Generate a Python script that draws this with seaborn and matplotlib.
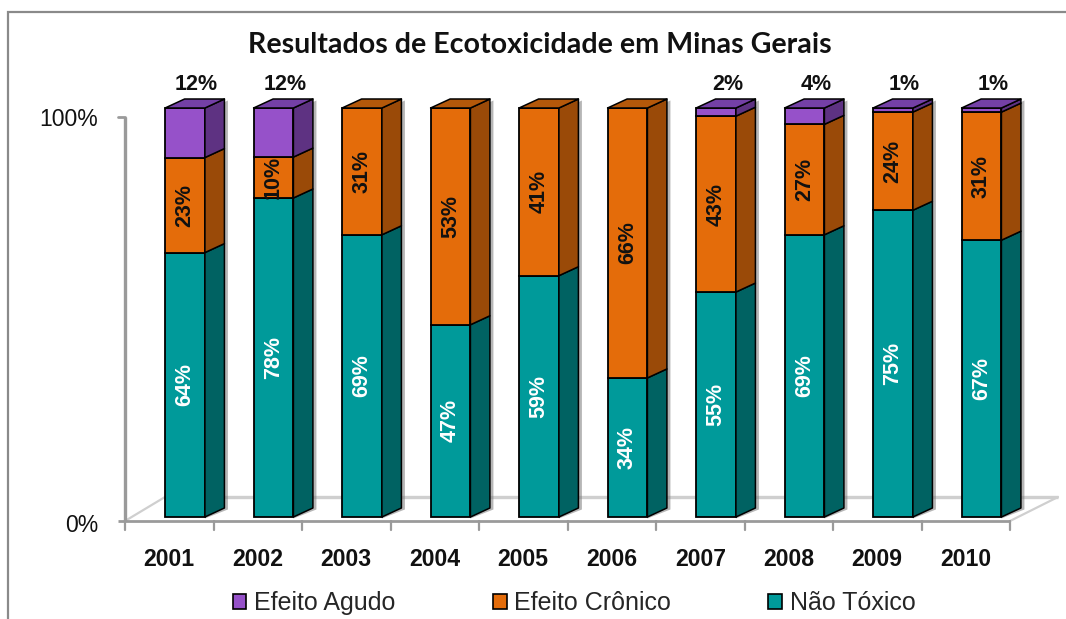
import numpy as np
import pandas as pd
import matplotlib
matplotlib.use("Agg")
import matplotlib.pyplot as plt
import seaborn as sns
from matplotlib.patches import Polygon, Rectangle, Patch

# ---------------- data ----------------
years = ["2001", "2002", "2003", "2004", "2005", "2006", "2007", "2008", "2009", "2010"]
agudo = [12, 12, 0, 0, 0, 0, 2, 4, 1, 1]
cronico = [23, 10, 31, 53, 41, 66, 43, 27, 24, 31]
nao_toxico = [64, 78, 69, 47, 59, 34, 55, 69, 75, 67]
series = ["Efeito Agudo", "Efeito Crônico", "Não Tóxico"]
tick_labels = ["0%", "100%"]
title = "Resultados de Ecotoxicidade em Minas Gerais"

# ---------------- style ----------------
front = {"Efeito Agudo": "#9651C9", "Efeito Crônico": "#E46C0A", "Não Tóxico": "#009A9A"}
side = {"Efeito Agudo": "#5E3282", "Efeito Crônico": "#9A4A08", "Não Tóxico": "#006262"}
top = {"Efeito Agudo": "#7440A6", "Efeito Crônico": "#B4580A", "Não Tóxico": "#007A7A"}

sns.set_theme(style="white")
plt.rcParams["font.family"] = ["Liberation Sans", "DejaVu Sans"]

W, H = 1066, 619
fig = plt.figure(figsize=(W / 100, H / 100), dpi=100)

# pixel mapping of the data space
X0, XS = 185.0, 88.5   # px of category 0 centre, px per category
Y0, YS = 517.0, 409.0  # px of 0 fraction, px per 1.0
xl = (-1.3, 10.3)
yl = (-0.22, 1.2)
ax = fig.add_axes([(X0 + XS * xl[0]) / W, (H - (Y0 - YS * yl[0])) / H,
                   XS * (xl[1] - xl[0]) / W, YS * (yl[1] - yl[0]) / H])

# ---------------- bars (seaborn) ----------------
n = len(years)
rows = []
for i in range(n):
    for s, vals in zip(series, [agudo, cronico, nao_toxico]):
        rows.append({"pos": i, "serie": s, "valor": vals[i]})
df = pd.DataFrame(rows)

bw = 0.45
sns.histplot(data=df, x="pos", hue="serie", weights="valor", multiple="fill",
             discrete=True, shrink=bw, hue_order=series, palette=front,
             alpha=1, edgecolor="black", linewidth=1.3, legend=False, ax=ax,
             zorder=3)

ax.set_xlim(*xl)
ax.set_ylim(*yl)
ax.axis("off")

# depth offsets (3D look)
dx = 19.5 / XS
dy = 9.0 / YS
sx = 3.5 / XS   # shadow offset
sy = 1.5 / YS

# floor / axes decoration (front plane shifted from the bars' plane)
fx = (125 - X0) / XS          # left wall x
fy0 = (Y0 - 521) / YS         # front floor y
fy1 = (Y0 - 117) / YS         # 100% on front plane
by = (Y0 - 497) / YS          # back floor y
bx0 = (165 - X0) / XS
bx1 = (1058 - X0) / XS
fxe = fx + n
grey = "#9A9A9A"
light = "#CFCFCF"
ax.plot([bx0, bx1], [by, by], color=light, lw=2.4, zorder=0.5, solid_capstyle="butt")
ax.plot([fx, bx0], [fy0, by], color=light, lw=1.6, zorder=0.5)
ax.plot([fxe, bx1], [fy0, by], color=light, lw=1.6, zorder=0.5)
ax.plot([fx - 7 / XS, fxe], [fy0, fy0], color=grey, lw=2.0, zorder=1, solid_capstyle="butt")
ax.plot([fx, fx], [fy0, fy1], color=grey, lw=2.4, zorder=1, solid_capstyle="butt")
ax.plot([fx - 7 / XS, fx], [fy1, fy1], color=grey, lw=2.0, zorder=1)
for k in range(n + 1):
    ax.plot([fx + k, fx + k], [fy0, fy0 - 9 / YS], color=grey, lw=1.6, zorder=1)

# y tick labels
ax.text((98 - X0) / XS, (Y0 - 525) / YS, tick_labels[0], ha="right", va="center",
        fontsize=16.6, color="#111111")
ax.text((98 - X0) / XS, (Y0 - 119) / YS, tick_labels[1], ha="right", va="center",
        fontsize=16.6, color="#111111")

# category labels
for i, yr in enumerate(years):
    ax.text(fx + 0.5 + i, (Y0 - 559) / YS, yr, ha="center", va="center",
            fontsize=16.6, fontweight="bold", color="#111111")

# 3D side and top faces + value labels
for i in range(n):
    vals = {"Não Tóxico": nao_toxico[i], "Efeito Crônico": cronico[i], "Efeito Agudo": agudo[i]}
    tot = sum(vals.values())
    xr = i + bw / 2
    # soft shadow behind the side face
    ax.add_patch(Polygon([(xr, -sy), (xr + dx + sx, dy - sy), (xr + dx + sx, 1 + dy - sy),
                          (xr + sx, 1 - sy)], closed=True, facecolor="#7A7A7A",
                         edgecolor="none", alpha=0.55, zorder=2))
    b = 0.0
    topser = None
    for s in ["Não Tóxico", "Efeito Crônico", "Efeito Agudo"]:
        h = vals[s] / tot
        if h <= 0:
            continue
        ax.add_patch(Polygon([(xr, b), (xr + dx, b + dy), (xr + dx, b + h + dy), (xr, b + h)],
                             closed=True, facecolor=side[s], edgecolor="black", lw=1.1,
                             zorder=3, joinstyle="round"))
        if s == "Não Tóxico":
            ax.text(i, b + h / 2, f"{vals[s]}%", rotation=90, ha="center", va="center",
                    fontsize=15.5, fontweight="bold", color="white", zorder=5)
        elif s == "Efeito Crônico":
            ax.text(i, b + h / 2, f"{vals[s]}%", rotation=90, ha="center", va="center",
                    fontsize=15.5, fontweight="bold", color="#111111", zorder=5)
        b += h
        topser = s
    xl_, xr_ = i - bw / 2, i + bw / 2
    ax.add_patch(Polygon([(xl_, b), (xl_ + dx, b + dy), (xr_ + dx, b + dy), (xr_, b)],
                         closed=True, facecolor=top[topser], edgecolor="black", lw=1.1,
                         zorder=3, joinstyle="round"))
    if agudo[i] > 0:
        ax.text(i + 0.13, b + (Y0 - 84 - YS) / YS, f"{agudo[i]}%", ha="center", va="center",
                fontsize=15.5, fontweight="bold", color="#111111", zorder=5)

# title
fig.text(540 / W, 1 - 45 / H, title, ha="center", va="center", fontsize=20.6,
         fontweight="bold", family=["Lato", "DejaVu Sans"], color="#111111")

# legend
handles = [Patch(facecolor=front[s], edgecolor="black", lw=1.2, label=s) for s in series]
fig.legend(handles=handles, loc="center", bbox_to_anchor=(574 / W, 1 - 603 / H),
           ncol=3, frameon=False, fontsize=18, handlelength=0.55, handleheight=0.55,
           handletextpad=0.3, columnspacing=3.9)

# chart border
fig.add_artist(Rectangle((8 / W, -0.1), 1.2, (H - 12) / H + 0.1, transform=fig.transFigure,
                         fill=False, edgecolor="#8A8A8A", lw=1.6))

fig.savefig("out.png", dpi=100, facecolor="white")
